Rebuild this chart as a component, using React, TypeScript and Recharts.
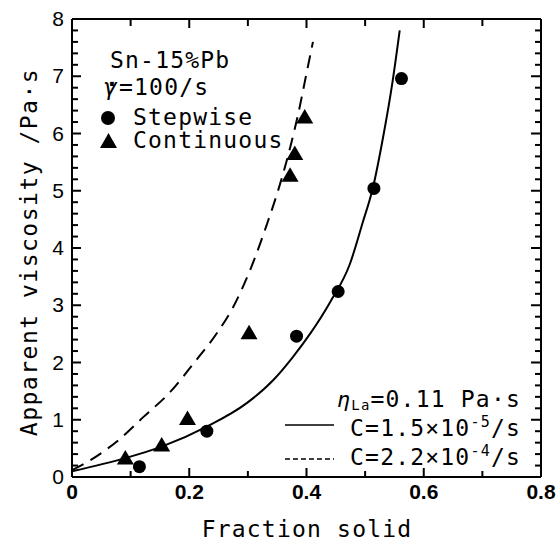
import React from "react";
import {
  ComposedChart,
  Line,
  Scatter,
  XAxis,
  YAxis,
} from "recharts";

// Measured points (fraction solid, apparent viscosity Pa·s)
const stepwise = [
  { x: 0.115, y: 0.18 },
  { x: 0.23, y: 0.8 },
  { x: 0.383, y: 2.46 },
  { x: 0.454, y: 3.24 },
  { x: 0.515, y: 5.04 },
  { x: 0.562, y: 6.96 },
];

const continuous = [
  { x: 0.091, y: 0.33 },
  { x: 0.153, y: 0.56 },
  { x: 0.197, y: 1.02 },
  { x: 0.302, y: 2.52 },
  { x: 0.372, y: 5.27 },
  { x: 0.38, y: 5.65 },
  { x: 0.397, y: 6.29 },
];

// Model curves
const curveSlow = [
  { x: 0, y: 0.1 },
  { x: 0.091, y: 0.33 },
  { x: 0.153, y: 0.53 },
  { x: 0.23, y: 0.88 },
  { x: 0.298, y: 1.29 },
  { x: 0.343, y: 1.69 },
  { x: 0.377, y: 2.1 },
  { x: 0.406, y: 2.5 },
  { x: 0.44, y: 3.05 },
  { x: 0.474, y: 3.72 },
  { x: 0.496, y: 4.45 },
  { x: 0.513, y: 5.04 },
  { x: 0.53, y: 5.9 },
  { x: 0.547, y: 6.92 },
  { x: 0.559, y: 7.8 },
];

const curveFast = [
  { x: 0, y: 0.12 },
  { x: 0.037, y: 0.33 },
  { x: 0.08, y: 0.65 },
  { x: 0.122, y: 1.05 },
  { x: 0.168, y: 1.49 },
  { x: 0.207, y: 1.98 },
  { x: 0.247, y: 2.51 },
  { x: 0.275, y: 2.97 },
  { x: 0.306, y: 3.67 },
  { x: 0.332, y: 4.4 },
  { x: 0.352, y: 5.02 },
  { x: 0.372, y: 5.75 },
  { x: 0.386, y: 6.35 },
  { x: 0.4, y: 7.05 },
  { x: 0.411, y: 7.6 },
];

const xTicks = [0, 0.1, 0.2, 0.3, 0.4, 0.5, 0.6, 0.7, 0.8];
const xLabelled = [0, 0.2, 0.4, 0.6, 0.8];
const yTicks = [
  0, 0.2, 0.4, 0.6, 0.8, 1, 1.2, 1.4, 1.6, 1.8, 2, 2.2, 2.4, 2.6, 2.8, 3,
  3.2, 3.4, 3.6, 3.8, 4, 4.2, 4.4, 4.6, 4.8, 5, 5.2, 5.4, 5.6, 5.8, 6, 6.2,
  6.4, 6.6, 6.8, 7, 7.2, 7.4, 7.6, 7.8, 8,
];
const yLabelled = [0, 1, 2, 3, 4, 5, 6, 7, 8];
const X_MAX = 0.8;
const Y_MAX = 8;

const W = 560;
const H = 547;
const MARGIN = { top: 18, right: 18, bottom: 0, left: 0 };
const X_AXIS_H = 70;
const Y_AXIS_W = 72;
// frame edges that follow from the margins and axis sizes above
const FRAME = {
  left: MARGIN.left + Y_AXIS_W,
  right: W - MARGIN.right - 1,
  top: MARGIN.top + 1,
  bottom: H - MARGIN.bottom - X_AXIS_H,
};
const sx = (v: number) => FRAME.left + (v / X_MAX) * (FRAME.right - FRAME.left);
const sy = (v: number) => FRAME.bottom - (v / Y_MAX) * (FRAME.bottom - FRAME.top);

const MONO = "DejaVu Sans Mono, monospace";
const NUM = "Liberation Sans, Arial, sans-serif";
const TICK_W = 2;

const near = (list: number[], v: number) =>
  list.some((t) => Math.abs(t - v) < 1e-6);

function BottomLabel(props: any) {
  const { x, payload } = props;
  if (!near(xLabelled, payload.value)) return <g />;
  return (
    <text x={x} y={FRAME.bottom + 22} textAnchor="middle" fontFamily={NUM} fontWeight="bold" fontSize={21} fill="#000">
      {payload.value}
    </text>
  );
}

function LeftLabel(props: any) {
  const { y, payload } = props;
  if (!near(yLabelled, payload.value)) return <g />;
  return (
    <text x={FRAME.left - 8} y={y + 7} textAnchor="end" fontFamily={NUM} fontSize={21} fill="#000">
      {payload.value}
    </text>
  );
}

// inward tick marks on all four sides of the frame
function TickMarks() {
  return (
    <g stroke="#000" strokeWidth={TICK_W}>
      {xTicks.map((v) => {
        const major = near(xLabelled, v);
        const x = sx(v);
        return (
          <g key={`x${v}`}>
            <line x1={x} y1={FRAME.bottom} x2={x} y2={FRAME.bottom - (major ? 9 : 6)} />
            <line x1={x} y1={FRAME.top} x2={x} y2={FRAME.top + (major ? 9 : 7)} />
          </g>
        );
      })}
      {yTicks.map((v) => {
        const major = near(yLabelled, v);
        const y = sy(v);
        return (
          <g key={`y${v}`}>
            <line x1={FRAME.left} y1={y} x2={FRAME.left + (major ? 9 : 6)} y2={y} />
            <line x1={FRAME.right} y1={y} x2={FRAME.right - (major ? 10 : 6)} y2={y} />
          </g>
        );
      })}
    </g>
  );
}

const Dot = (props: any) => <circle cx={props.cx} cy={props.cy} r={6.5} fill="#000" />;

const Tri = (props: any) => {
  const { cx, cy } = props;
  return <polygon points={`${cx},${cy - 8} ${cx - 8.5},${cy + 6.5} ${cx + 8.5},${cy + 6.5}`} fill="#000" />;
};

export default function App() {
  return (
    <div style={{ position: "relative", width: W, height: H, background: "#fff" }}>
      <style>{"body{margin:0}"}</style>
      <ComposedChart width={W} height={H} margin={MARGIN}>
        <XAxis
          dataKey="x"
          type="number"
          domain={[0, X_MAX]}
          ticks={xTicks}
          interval={0}
          height={X_AXIS_H}
          tickLine={false}
          tick={BottomLabel}
          axisLine={{ stroke: "#000", strokeWidth: 2 }}
        />
        <XAxis
          xAxisId="top"
          dataKey="x"
          orientation="top"
          type="number"
          domain={[0, X_MAX]}
          ticks={xTicks}
          height={1}
          tickLine={false}
          tick={false}
          axisLine={{ stroke: "#000", strokeWidth: 2 }}
        />
        <YAxis
          type="number"
          domain={[0, Y_MAX]}
          ticks={yTicks}
          interval={0}
          width={Y_AXIS_W}
          tickLine={false}
          tick={LeftLabel}
          axisLine={{ stroke: "#000", strokeWidth: 2 }}
        />
        <YAxis
          yAxisId="right"
          orientation="right"
          type="number"
          domain={[0, Y_MAX]}
          ticks={yTicks}
          width={1}
          tickLine={false}
          tick={false}
          axisLine={{ stroke: "#000", strokeWidth: 2 }}
        />
        <Line data={curveSlow} dataKey="y" type="monotone" stroke="#000" strokeWidth={2} dot={false} isAnimationActive={false} />
        {/* same domains as the main axes; bound here so the frame's top/right sides get drawn */}
        <Line xAxisId="top" yAxisId="right" data={curveFast} dataKey="y" type="monotone" stroke="#000" strokeWidth={2} strokeDasharray="13 8" dot={false} isAnimationActive={false} />
        <Scatter data={stepwise} dataKey="y" shape={Dot} isAnimationActive={false} />
        <Scatter data={continuous} dataKey="y" shape={Tri} isAnimationActive={false} />
      </ComposedChart>

      <svg width={W} height={H} style={{ position: "absolute", left: 0, top: 0, pointerEvents: "none" }}>
        <TickMarks />
        <g fontFamily={MONO} fontSize={23} letterSpacing={1.2} fill="#000">
          <text x={110} y={68}>Sn-15%Pb</text>
          <text x={104} y={95} fontStyle="italic">γ</text>
          <text x={105} y={92} fontWeight="bold">·</text>
          <text x={119} y={95}>=100/s</text>
          <circle cx={108} cy={118} r={7} fill="#000" />
          <text x={133} y={125}>Stepwise</text>
          <polygon points="108.5,133 100,148 117,148" fill="#000" />
          <text x={133} y={148}>Continuous</text>

          <text x={521} y={407} textAnchor="end">
            <tspan fontStyle="italic" fontSize={22}>η</tspan>
            <tspan fontSize={14} dy={3}>La</tspan>
            <tspan dy={-3}>=0.11 Pa·s</tspan>
          </text>
          <line x1={285} y1={425} x2={334} y2={425} stroke="#000" strokeWidth={1.5} />
          <text x={521} y={436} textAnchor="end">
            C=1.5×10<tspan fontSize={15} dy={-9}>-5</tspan>
            <tspan dy={9}>/s</tspan>
          </text>
          <line x1={285} y1={459} x2={334} y2={459} stroke="#000" strokeWidth={1.5} strokeDasharray="5 3" />
          <text x={521} y={465} textAnchor="end">
            C=2.2×10<tspan fontSize={15} dy={-9}>-4</tspan>
            <tspan dy={9}>/s</tspan>
          </text>

          <text x={307} y={537} textAnchor="middle">Fraction solid</text>
          <text x={37} y={252} textAnchor="middle" letterSpacing={1.5} transform="rotate(-90 37 252)">
            Apparent viscosity /Pa·s
          </text>
        </g>
      </svg>
    </div>
  );
}
